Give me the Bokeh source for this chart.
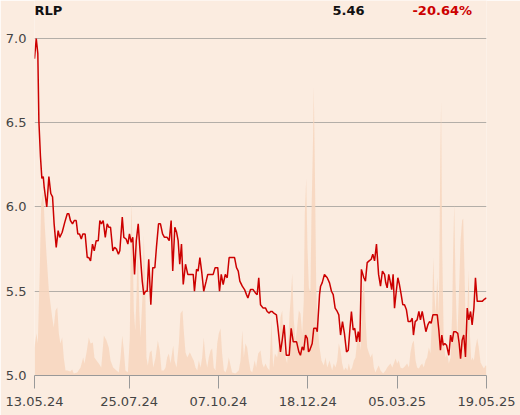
from bokeh.plotting import figure
from bokeh.models import Range1d, FixedTicker, Label, NumeralTickFormatter
from bokeh.embed import file_html
from bokeh.resources import INLINE

# ---- data (session index since 13.05.24) ----
price_sess = [0, 1.0, 1.9, 2.5, 3.4, 4.2, 5.0, 5.5, 7.0, 8.2, 9.3, 10.3, 11.2, 12.4, 13.5, 14.4, 15.8, 17.3, 18.7, 19.6,
              20.5, 21.7, 22.7, 23.8, 24.7, 25.7, 26.7, 27.6, 28.9, 30.1, 31.0, 32.0, 33.1, 34.1, 35.2, 36.4, 37.3, 38.2, 39.2, 40.4,
              41.5, 42.4, 43.4, 44.7, 45.7, 46.8, 47.9, 48.7,
              50.1, 51.0, 52.3, 53.3, 54.2, 55.2, 56.1, 57.1, 58.1, 59.2, 60.5, 61.5, 62.4, 63.4, 64.3, 65.2, 66.4, 67.5, 68.7, 69.6,
              70.8, 71.9, 73.1, 74.2, 75.7, 76.9, 78.0, 78.9, 80.1, 81.1, 82.0, 82.9, 83.9, 84.9, 86.2, 87.5, 89.0, 90.6, 91.3, 92.5,
              93.4, 94.4, 95.5, 96.6, 98.0, 98.9, 100.5, 102.0, 103.1, 104.6, 105.6, 106.6, 107.7, 108.9, 110.0, 111.1, 112.8, 114.2,
              115.3, 116.3, 117.2, 118.6, 119.9, 121.0,
              121.8, 123.3, 124.8, 126.1, 127.1, 128.0, 129.0, 130.5, 131.9, 132.8, 134.0, 134.7, 135.7, 136.6, 138.1, 138.9, 140.4,
              141.4, 142.5, 143.7, 145.4, 146.5, 147.7, 149.6, 150.9, 151.8, 152.8, 153.7, 154.7, 155.7, 156.4, 157.1, 158.5, 159.4,
              160.8, 161.4, 162.7,
              163.3, 164.2, 165.5, 167.1, 168.4, 169.5, 170.5, 171.6, 172.8, 173.7, 174.7, 175.8, 176.9, 178.1, 179.1, 180.0, 180.9,
              181.9, 182.8, 183.8, 184.8, 185.7, 186.6, 188.0, 188.9, 189.9, 191.0, 192.2, 193.1, 194.1, 195.2, 196.4, 197.5, 198.6,
              199.8, 200.5, 201.3, 202.2, 203.2, 203.9, 204.7, 205.5, 206.5, 207.4, 208.3, 209.3, 210.2, 211.2, 212.3, 213.3, 214.6,
              215.6, 216.3, 217.3, 218.4, 219.4, 220.3, 221.3, 222.2, 223.4, 224.5, 225.5, 226.4, 227.4, 228.9, 229.9, 230.8, 231.7,
              232.5, 233.3, 234.2, 235.2, 236.5, 237.5, 238.4, 239.3, 240.5, 241.6, 242.4, 243.2, 244.1, 245.0, 246.0, 247.0, 247.9,
              248.9, 249.8, 250.8, 251.7, 252.7, 254.2, 255.5, 256.5, 258]

price = [6.88, 7.00, 6.91, 6.51, 6.30, 6.17, 6.18, 6.12, 6.00, 6.18, 6.08, 6.06, 5.90, 5.76, 5.86, 5.82, 5.85, 5.91, 5.96, 5.96,
         5.92, 5.90, 5.92, 5.92, 5.84, 5.84, 5.81, 5.84, 5.84, 5.70, 5.70, 5.68, 5.78, 5.74, 5.80, 5.80, 5.92, 5.90, 5.92, 5.82,
         5.90, 5.88, 5.88, 5.74, 5.76, 5.75, 5.72, 5.74,
         5.94, 5.82, 5.81, 5.78, 5.84, 5.79, 5.82, 5.60, 5.80, 5.90, 5.70, 5.56, 5.48, 5.50, 5.50, 5.69, 5.42, 5.64, 5.64, 5.76,
         5.90, 5.90, 5.84, 5.82, 5.82, 5.80, 5.92, 5.62, 5.88, 5.85, 5.80, 5.66, 5.78, 5.54, 5.66, 5.60, 5.60, 5.60, 5.50, 5.63,
         5.62, 5.70, 5.61, 5.50, 5.56, 5.60, 5.60, 5.60, 5.64, 5.64, 5.50, 5.60, 5.54, 5.60, 5.58, 5.70, 5.70, 5.70, 5.64, 5.62,
         5.56, 5.53, 5.51, 5.48,
         5.46, 5.51, 5.51, 5.49, 5.48, 5.58, 5.42, 5.40, 5.40, 5.38, 5.37, 5.38, 5.38, 5.37, 5.36, 5.29, 5.14, 5.21, 5.30, 5.12,
         5.12, 5.28, 5.20, 5.20, 5.14, 5.12, 5.17, 5.15, 5.24, 5.22, 5.14, 5.15, 5.19, 5.28, 5.28, 5.26, 5.48,
         5.53, 5.55, 5.60, 5.58, 5.55, 5.50, 5.48, 5.40, 5.38, 5.36, 5.24, 5.32, 5.25, 5.14, 5.15, 5.27, 5.38, 5.27, 5.28, 5.20,
         5.26, 5.20, 5.63, 5.58, 5.56, 5.67, 5.68, 5.69, 5.72, 5.68, 5.78, 5.60, 5.53, 5.62, 5.60, 5.55, 5.52, 5.60, 5.55, 5.51,
         5.60, 5.40, 5.50, 5.58, 5.54, 5.48, 5.42, 5.42, 5.39, 5.32, 5.32, 5.34, 5.24, 5.32, 5.33, 5.38, 5.33, 5.38, 5.33, 5.26,
         5.30, 5.32, 5.31, 5.36, 5.36, 5.36, 5.27, 5.15, 5.24, 5.18, 5.19, 5.18, 5.12, 5.24, 5.20, 5.26, 5.26, 5.25, 5.19, 5.10,
         5.21, 5.24, 5.11, 5.40, 5.33, 5.38, 5.30, 5.40, 5.58, 5.44, 5.44, 5.44, 5.45, 5.46]

vol_sess = [0, 1.1, 1.9, 3.0, 3.8, 5.0, 5.7, 6.8, 8.2, 9.1, 10.1, 11.0, 12.0, 13.0, 13.9, 14.8, 15.8, 16.7, 17.7, 18.7,
            20.5, 21.5, 22.4, 24.4, 26.3, 27.8, 28.5, 29.7, 31.0, 32.0, 33.3, 34.2, 35.4, 36.7, 38.1, 39.6, 41.1, 42.4, 43.4, 44.9,
            46.8, 48.1, 49.1, 50.1, 51.0, 51.9, 53.3, 54.4, 55.2, 55.9, 56.7, 57.5, 58.2, 59.0, 59.8, 60.5, 61.6, 62.4, 63.2, 63.9,
            64.7, 65.8, 66.8, 67.8, 69.1, 70.4, 71.5, 72.5, 73.8, 74.8, 75.7, 76.7, 77.6, 79.2, 79.9, 81.1, 82.4, 83.3, 84.5, 85.2,
            86.2, 87.2, 88.6,
            89.0, 90.0, 90.9, 91.9, 92.9, 93.8, 94.8, 95.7, 96.6, 97.6, 98.6, 99.5, 100.5, 101.4, 102.3, 103.3, 104.3, 105.2, 106.2,
            107.1, 108.1, 109.0, 110.0, 110.9, 111.9, 112.8, 114.7, 116.6, 117.6, 118.6, 119.5, 120.4, 121.4, 122.3, 123.3, 124.3,
            125.7, 126.5, 127.7, 129.0, 130.0, 130.9, 131.9, 132.8, 134.1, 135.3, 136.2, 137.2, 138.5, 139.5, 140.4, 141.4, 142.3,
            143.3, 144.2, 145.6, 146.3, 147.1, 148.0, 149.0, 149.9, 150.9, 151.8, 152.8, 153.7, 154.3, 155.1, 155.8, 156.6, 157.5,
            158.1, 158.9, 159.4, 160.0, 160.8, 161.7, 162.7, 163.8, 165.1, 166.1, 167.1, 168.4, 169.9, 170.8, 171.8, 172.8, 173.7,
            174.7, 175.6, 176.6,
            177.6, 178.6, 179.4, 180.4, 181.3, 182.3, 183.2, 184.2, 185.1, 186.1, 187.1, 188.0, 189.0, 189.9, 190.8, 191.8, 192.8,
            193.7, 194.6, 195.6, 196.5, 197.5, 199.0, 200.4, 201.3, 202.2, 203.2, 204.2, 205.1, 206.1, 207.0, 207.9, 208.9, 209.9,
            210.8, 211.8, 212.7, 213.7, 214.6, 215.6, 216.5, 217.5, 218.4, 219.4, 220.3, 221.3, 222.2, 223.2, 224.1, 225.1, 226.0,
            227.0, 227.6, 228.3, 228.9, 229.9, 230.8, 231.7, 232.1, 232.7, 233.6, 234.6, 235.6, 236.5, 237.5, 238.4, 239.0, 239.6,
            240.3, 241.3, 242.2, 243.2, 244.1, 244.7, 245.4, 246.2, 247.0, 247.8, 248.5, 249.3, 250.0, 250.8, 251.7, 252.7, 253.6,
            254.6, 255.5, 256.5, 257.5, 258]

volume_k = [28, 42, 32, 105, 172, 185, 155, 122, 85, 72, 58, 48, 65, 68, 42, 32, 38, 18, 5, 5,
            4, 6, 2, 3, 8, 18, 12, 23, 38, 32, 33, 18, 15, 12, 8, 40, 35, 28, 15, 8,
            5, 3, 18, 40, 25, 5, 3, 38, 173, 138, 65, 45, 78, 138, 65, 38, 78, 140, 88, 18,
            10, 23, 25, 8, 18, 35, 25, 5, 5, 8, 18, 22, 12, 30, 15, 8, 32, 62, 65, 45,
            23, 18, 23,
            22, 18, 15, 8, 5, 15, 8, 18, 38, 18, 8, 18, 25, 27, 8, 5, 32, 42, 47,
            22, 5, 3, 8, 18, 10, 3, 2, 5, 15, 45, 18, 32, 28, 15, 5, 3,
            15, 8, 22, 25, 12, 8, 12, 8, 5, 55, 8, 22, 18, 32, 58, 65, 28,
            18, 12, 62, 78, 102, 55, 35, 48, 65, 62, 42, 75, 162, 197, 128, 88, 82,
            162, 228, 289, 212, 88, 48, 28, 15, 10, 18, 8, 15, 5, 12, 8, 15, 32,
            25, 12, 5,
            8, 5, 12, 5, 8, 15, 18, 35, 42, 25, 78, 95, 55, 28, 23, 18, 22,
            8, 3, 7, 10, 5, 2, 5, 8, 10, 12, 8, 12, 17, 12, 15, 8, 7,
            8, 10, 12, 8, 23, 32, 35, 15, 8, 7, 10, 12, 8, 15, 18, 28, 22,
            62, 118, 82, 62, 98, 62, 228, 274, 128, 35, 18, 22, 12, 18, 62, 128, 172,
            95, 35, 78, 135, 155, 157, 108, 42, 62, 105, 42, 15, 18, 15, 28, 37, 28,
            13, 10, 7, 10, 10]

tick_sess = [0, 54, 105, 156, 207, 258]
tick_labels = ["13.05.24", "25.07.24", "07.10.24", "18.12.24", "05.03.25", "19.05.25"]
y_ticks = [5.0, 5.5, 6.0, 6.5, 7.0]

ticker_name = "RLP"
last_price = "5.46"
change_pct = "-20.64%"

BG = "#fbece0"
RED = "#cc0000"
FONT = "DejaVu Sans"

p = figure(width=520, height=415, output_backend="svg", toolbar_location=None,
           x_range=Range1d(0, 258), y_range=Range1d(5.0, 7.2255),
           min_border_left=34, min_border_right=34, min_border_top=0, min_border_bottom=40,
           background_fill_color=BG, border_fill_color=BG, outline_line_color=None)

p.extra_y_ranges = {"vol": Range1d(0, 375)}

p.varea(x=vol_sess, y1=0, y2=volume_k, y_range_name="vol",
        fill_color="#f7d6bd", fill_alpha=0.85)
p.line(price_sess, price, line_color=RED, line_width=1.5)

p.xgrid.visible = False
p.ygrid.ticker = FixedTicker(ticks=y_ticks[1:])
p.ygrid.grid_line_color = "#b3aea8"
p.ygrid.grid_line_width = 1

ya = p.yaxis[0]
ya.ticker = FixedTicker(ticks=y_ticks)
ya.formatter = NumeralTickFormatter(format="0.0")
ya.axis_line_color = None
ya.major_tick_line_color = None
ya.minor_tick_line_color = None
ya.major_tick_out = 0
ya.major_tick_in = 0
ya.major_label_standoff = 8
ya.major_label_text_font = FONT
ya.major_label_text_font_size = "13px"
ya.major_label_text_color = "#444444"

xa = p.xaxis[0]
xa.ticker = FixedTicker(ticks=tick_sess)
xa.major_label_overrides = dict(zip(tick_sess, tick_labels))
xa.axis_line_color = "#999999"
xa.major_tick_line_color = "#999999"
xa.minor_tick_line_color = None
xa.major_tick_out = 13
xa.major_tick_in = 0
xa.major_label_standoff = 8
xa.major_label_text_font = FONT
xa.major_label_text_font_size = "13px"
xa.major_label_text_color = "#444444"

for txt, x, align, color in [(ticker_name, 0, "left", "#111111"),
                             (last_price, 330, "right", "#111111"),
                             (change_pct, 437.5, "right", RED)]:
    p.add_layout(Label(x=x, y=365, x_units="screen", y_units="screen", text=txt,
                       text_align=align, text_baseline="middle", text_font=FONT,
                       text_font_style="bold", text_font_size="13px", text_color=color))

open("out.html", "w").write(file_html(p, INLINE))
